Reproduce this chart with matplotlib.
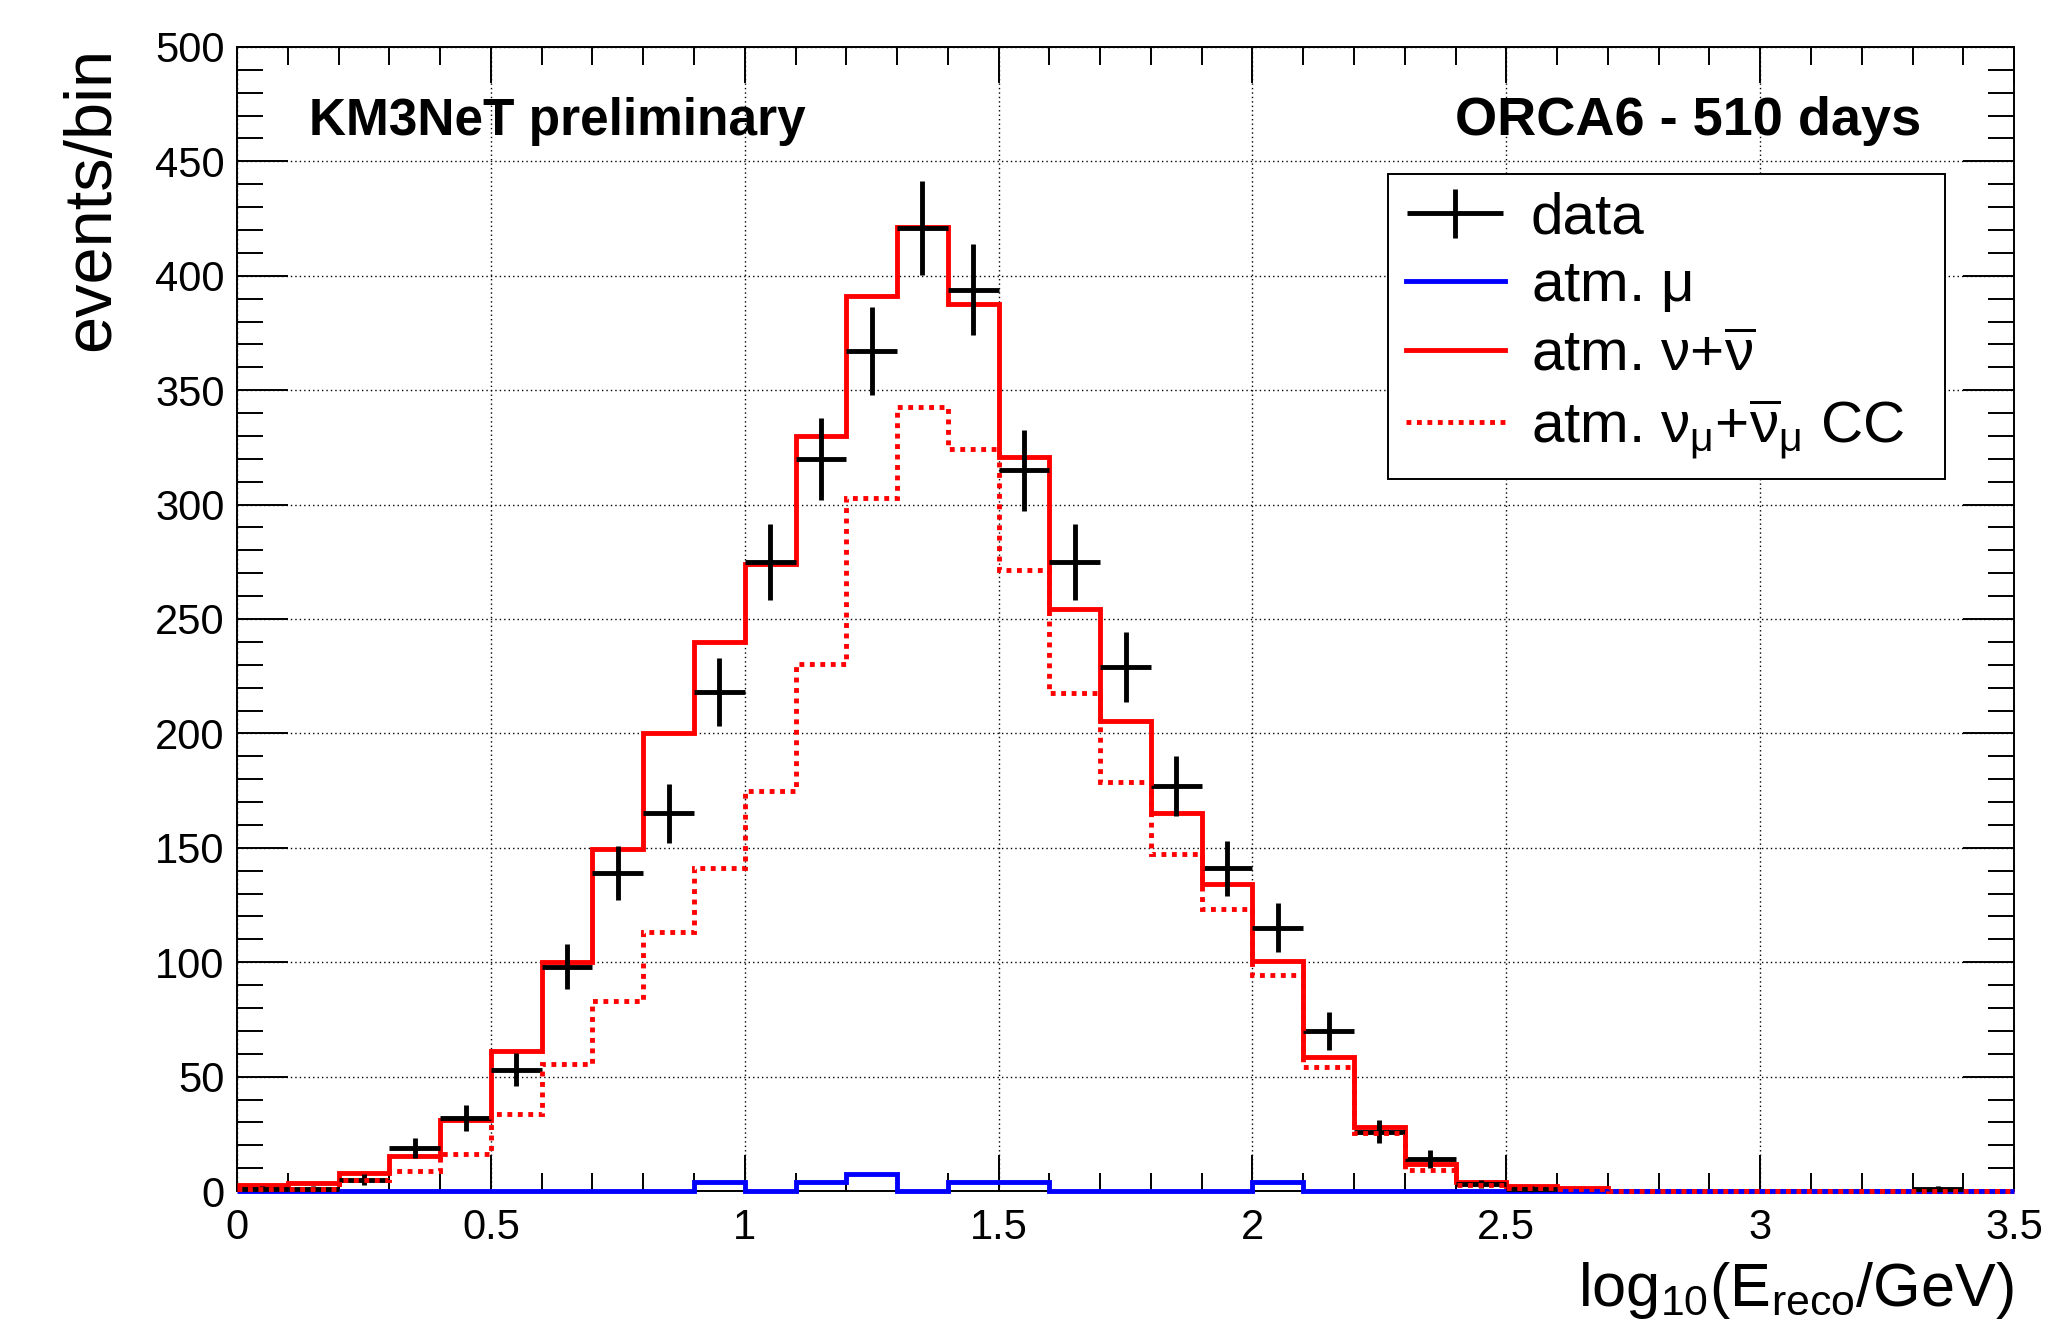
import numpy as np
import matplotlib
matplotlib.use("Agg")
import matplotlib.pyplot as plt
from matplotlib.ticker import MultipleLocator, FormatStrFormatter, FuncFormatter
from matplotlib.legend_handler import HandlerErrorbar
from matplotlib.container import ErrorbarContainer

plt.rcParams['font.family'] = ['Liberation Sans', 'DejaVu Sans']
plt.rcParams['mathtext.fontset'] = 'custom'
plt.rcParams['mathtext.rm'] = 'Liberation Sans'
plt.rcParams['mathtext.it'] = 'Liberation Sans'
plt.rcParams['mathtext.bf'] = 'Liberation Sans:bold'

# binning: log10(E_reco/GeV), 35 bins of 0.1
bin_edges = np.linspace(0.0, 3.5, 36)

# atm. nu + nubar (total MC)
nu_total = [2.5, 3.7, 7.9, 15.3, 30.9, 61, 100, 149.5, 200, 240,
            274, 330, 391, 421.5, 387.5, 321, 254.5, 205.5, 165, 134,
            100.7, 58.5, 27.8, 11.6, 4.0, 2.0, 1.2, 0, 0, 0,
            0, 0, 0, 0, 0]

# atm. numu + numubar CC
numu_cc = [1.0, 1.0, 4.7, 8.6, 16.3, 33.8, 55.5, 83, 113, 141,
           175, 230.5, 303, 342.7, 324.5, 271.5, 217.5, 178.7, 147.4, 123.3,
           94.6, 54.4, 25.2, 9.4, 2.6, 1.2, 0.9, 0, 0, 0,
           0, 0, 0, 0, 0]

# atm. mu
atm_mu = [0, 0, 0, 0, 0, 0, 0, 0, 0, 4,
          0, 4, 7.3, 0, 4, 4, 0, 0, 0, 0,
          4, 0, 0, 0, 0, 0, 0, 0, 0, 0,
          0, 0, 0, 0, 0]

# data counts
data = [1, 1, 5, 19, 32, 53, 98, 139, 165, 218,
        275, 320, 367, 421, 394, 315, 275, 229, 177, 141,
        115, 70, 26, 14, 3, 1, 0, 0, 0, 0,
        0, 0, 0, 1, 0]

centers = 0.5 * (bin_edges[1:] + bin_edges[:-1])
half_width = 0.5 * np.diff(bin_edges)
data = np.array(data, dtype=float)
mask = data > 0

fig = plt.figure(figsize=(20.47, 13.42), dpi=100)
ax = fig.add_axes([0.1158, 0.1125, 0.8681, 0.8525])

lw = 3.5
lab_nu = r'atm. $\nu$+$\overline{\nu}$'
lab_mu = r'atm. $\mu$'
lab_cc = r'atm. $\nu_{\mu}$+$\overline{\nu}_{\mu}$ CC'

ax.stairs(nu_total, bin_edges, baseline=None, color='red', lw=lw,
          label=lab_nu, clip_on=False, zorder=3)
ax.stairs(atm_mu, bin_edges, baseline=None, color='blue', lw=lw,
          label=lab_mu, clip_on=False, zorder=4)
ax.errorbar(centers[mask], data[mask], xerr=half_width[mask], yerr=np.sqrt(data[mask]),
            fmt='s', ms=2.5, color='black', elinewidth=lw, capsize=0,
            label='data', zorder=5, clip_on=False)
ax.stairs(numu_cc, bin_edges, baseline=None, color='red', lw=lw,
          linestyle=(0, (1.0, 1.15)),
          label=lab_cc, clip_on=False, zorder=6)

ax.set_xlim(0, 3.5)
ax.set_ylim(0, 500)

ax.xaxis.set_major_locator(MultipleLocator(0.5))
ax.xaxis.set_minor_locator(MultipleLocator(0.1))
ax.yaxis.set_major_locator(MultipleLocator(50))
ax.yaxis.set_minor_locator(MultipleLocator(10))
ax.xaxis.set_major_formatter(FuncFormatter(lambda v, p: '%g' % v))
ax.yaxis.set_major_formatter(FormatStrFormatter('%d'))

ax.tick_params(which='both', direction='in', top=True, right=True, width=1.4)
ax.tick_params(axis='x', which='major', length=26, labelsize=30, pad=12)
ax.tick_params(axis='x', which='minor', length=13)
ax.tick_params(axis='y', which='major', length=37, labelsize=30, pad=9)
ax.tick_params(axis='y', which='minor', length=18.5)
for s in ax.spines.values():
    s.set_linewidth(1.4)

ax.grid(True, which='major', color='black', linestyle=(0, (1, 2.2)), lw=1.0)
ax.set_axisbelow(True)

ax.set_xlabel(r'log$_{10}$(E$_{\rm reco}$/GeV)', fontsize=44, loc='right')
ax.xaxis.set_label_coords(1.0, -0.06)
ax.set_ylabel('events/bin', fontsize=48, loc='top')
ax.yaxis.set_label_coords(-0.064, 1.0)

ax.text(0.0405, 0.935, 'KM3NeT preliminary', transform=ax.transAxes,
        fontsize=37, fontweight='bold', ha='left', va='center')
ax.text(0.948, 0.935, 'ORCA6 - 510 days', transform=ax.transAxes,
        fontsize=39, fontweight='bold', ha='right', va='center')

handles, labels = ax.get_legend_handles_labels()
order = [labels.index('data'), labels.index(lab_mu),
         labels.index(lab_nu), labels.index(lab_cc)]
leg = ax.legend([handles[i] for i in order], [labels[i] for i in order],
                loc='upper left', bbox_to_anchor=(0.6477, 0.63, 0.3135, 0.259),
                mode='expand', borderaxespad=0,
                fontsize=42, fancybox=False, framealpha=1, edgecolor='black',
                handlelength=1.7, handletextpad=0.45, labelspacing=0.24,
                borderpad=0.3,
                handler_map={ErrorbarContainer: HandlerErrorbar(xerr_size=0.82, yerr_size=0.42)})
leg.get_frame().set_linewidth(1.4)

fig.savefig('out.png', dpi=100)
